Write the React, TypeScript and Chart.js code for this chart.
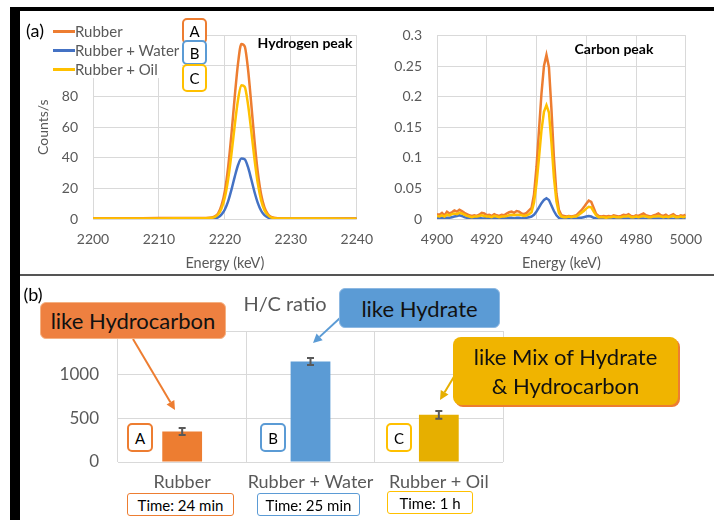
import React, { useEffect, useRef } from "react";
import { Chart, registerables } from "chart.js";

Chart.register(...registerables);

const FONT = "Lato, 'Noto Sans', sans-serif";
const ORANGE = "#ED7D31";
const BLUE = "#4472C4";
const GOLD = "#FFC000";
const BAR_BLUE = "#5B9BD5";
const BAR_GOLD = "#E6AF00";
const AXIS_GRAY = "#595959";
const GRID = "#D9D9D9";

// Sample names (shared by the spectra and the ratio bars)
const seriesNames = ["Rubber", "Rubber + Water", "Rubber + Oil"];
const seriesLetters = ["A", "B", "C"];

// Hydrogen peak spectrum (keV, counts/s)
const hEnergy = [2200, 2205, 2210, 2215, 2217, 2218, 2218.5, 2219, 2219.5, 2220, 2220.5, 2221, 2221.5, 2222, 2222.5, 2223, 2223.5, 2224, 2224.5, 2225, 2225.5, 2226, 2226.5, 2227, 2228, 2230, 2235, 2240];
const hRubber = [0.5, 0.5, 0.6, 0.6, 0.7, 1.0, 1.8, 3.9, 9.0, 18.4, 34.1, 55.6, 80.2, 101.9, 114.4, 112.9, 98.3, 75.3, 50.8, 30.3, 16.0, 7.6, 3.3, 1.4, 0.5, 0.4, 0.3, 0.3];
const hWater = [0.2, 0.2, 0.2, 0.2, 0.2, 0.2, 0.5, 1.2, 3.0, 6.2, 11.7, 19.2, 27.7, 35.3, 39.6, 39.1, 34.0, 26.0, 17.5, 10.4, 5.4, 2.5, 1.0, 0.4, 0.2, 0.1, 0.1, 0.1];
const hOil = [0.4, 0.4, 0.4, 0.5, 0.5, 0.8, 1.4, 3.1, 7.0, 14.2, 26.1, 42.6, 61.4, 78.1, 87.5, 86.4, 75.2, 57.6, 38.9, 23.1, 12.2, 5.8, 2.6, 1.1, 0.4, 0.3, 0.3, 0.2];

// Carbon peak spectrum, 1 keV bins starting at 4900 keV
const cStart = 4900;
const cRubber = [
  0.008, 0.007, 0.010, 0.006, 0.012, 0.009, 0.011, 0.014, 0.012, 0.015,
  0.013, 0.010, 0.008, 0.006, 0.005, 0.006, 0.005, 0.007, 0.010, 0.009,
  0.006, 0.007, 0.005, 0.008, 0.006, 0.005, 0.007, 0.006, 0.009, 0.011,
  0.012, 0.010, 0.013, 0.012, 0.009, 0.008, 0.010, 0.014, 0.018, 0.040,
  0.085, 0.145, 0.205, 0.250, 0.268, 0.248, 0.180, 0.100, 0.042, 0.015,
  0.006, 0.005, 0.004, 0.005, 0.004, 0.005, 0.006, 0.010, 0.014, 0.019,
  0.025, 0.030, 0.028, 0.018, 0.008, 0.005, 0.004, 0.005, 0.004, 0.005,
  0.004, 0.006, 0.005, 0.004, 0.005, 0.007, 0.006, 0.008, 0.005, 0.004,
  0.006, 0.005, 0.007, 0.009, 0.006, 0.005, 0.004, 0.006, 0.007, 0.009,
  0.006, 0.005, 0.007, 0.004, 0.006, 0.008, 0.005, 0.004, 0.006, 0.005,
  0.007,
];
const cWater = [
  0.002, 0.001, 0.002, 0.001, 0.002, 0.002, 0.003, 0.004, 0.005, 0.006,
  0.005, 0.003, 0.002, 0.001, 0.001, 0.002, 0.001, 0.002, 0.001, 0.001,
  0.002, 0.001, 0.001, 0.002, 0.001, 0.001, 0.001, 0.002, 0.001, 0.002,
  0.002, 0.001, 0.002, 0.002, 0.001, 0.002, 0.002, 0.003, 0.004, 0.007,
  0.012, 0.019, 0.026, 0.031, 0.034, 0.031, 0.022, 0.013, 0.006, 0.002,
  0.001, 0.001, 0.001, 0.001, 0.001, 0.001, 0.001, 0.002, 0.002, 0.003,
  0.004, 0.005, 0.004, 0.002, 0.001, 0.001, 0.001, 0.001, 0.000, 0.001,
  0.001, 0.001, 0.000, 0.001, 0.001, 0.001, 0.001, 0.001, 0.000, 0.001,
  0.001, 0.001, 0.001, 0.001, 0.000, 0.001, 0.001, 0.001, 0.001, 0.001,
  0.001, 0.001, 0.001, 0.001, 0.001, 0.000, 0.001, 0.001, 0.001, 0.001,
  0.001,
];
const cOil = [
  0.005, 0.004, 0.006, 0.004, 0.007, 0.006, 0.008, 0.009, 0.008, 0.010,
  0.009, 0.007, 0.005, 0.004, 0.003, 0.004, 0.004, 0.005, 0.006, 0.005,
  0.004, 0.004, 0.003, 0.005, 0.004, 0.003, 0.004, 0.004, 0.005, 0.006,
  0.007, 0.006, 0.007, 0.007, 0.006, 0.005, 0.006, 0.008, 0.011, 0.027,
  0.058, 0.100, 0.145, 0.175, 0.186, 0.174, 0.125, 0.068, 0.029, 0.010,
  0.004, 0.003, 0.003, 0.004, 0.003, 0.004, 0.004, 0.007, 0.010, 0.013,
  0.017, 0.020, 0.019, 0.012, 0.006, 0.003, 0.003, 0.003, 0.002, 0.003,
  0.003, 0.004, 0.003, 0.003, 0.003, 0.004, 0.004, 0.005, 0.003, 0.003,
  0.004, 0.003, 0.004, 0.005, 0.004, 0.003, 0.003, 0.004, 0.004, 0.005,
  0.004, 0.003, 0.004, 0.003, 0.004, 0.005, 0.003, 0.003, 0.004, 0.003,
  0.004,
];

// H/C ratio per sample, with its uncertainty
const hcRatio = [350, 1150, 540];
const hcError = [40, 40, 45];
const measureTimes = ["Time: 24 min", "Time: 25 min", "Time: 1 h"];

const lineColors = [ORANGE, BLUE, GOLD];
const boxColors = [ORANGE, BAR_BLUE, GOLD];
const barColors = [ORANGE, BAR_BLUE, BAR_GOLD];

const tickFont = { family: FONT, size: 14 };

function spectrumDataset(label: string, color: string, pts: { x: number; y: number }[], smooth: boolean) {
  return {
    label,
    data: pts,
    borderColor: color,
    backgroundColor: color,
    borderWidth: 2.5,
    pointRadius: 0,
    fill: false,
    ...(smooth ? { cubicInterpolationMode: "monotone" } : { tension: 0 }),
  };
}

function hydrogenConfig(): any {
  const pts = (ys: number[]) => hEnergy.map((x, i) => ({ x, y: ys[i] }));
  return {
    type: "line",
    data: {
      datasets: [
        spectrumDataset(seriesNames[2], GOLD, pts(hOil), true),
        spectrumDataset(seriesNames[0], ORANGE, pts(hRubber), true),
        spectrumDataset(seriesNames[1], BLUE, pts(hWater), true),
      ],
    },
    options: {
      responsive: false,
      animation: false,
      devicePixelRatio: 1,
      layout: { padding: { top: 18, right: 21, left: 0, bottom: 0 } },
      plugins: { legend: { display: false }, tooltip: { enabled: false } },
      scales: {
        x: {
          type: "linear",
          min: 2200,
          max: 2240,
          ticks: { stepSize: 10, color: AXIS_GRAY, font: tickFont, padding: 12, maxRotation: 0, callback: (v: number) => String(v) },
          grid: { color: GRID, drawTicks: false },
          border: { display: false },
          title: { display: true, text: "Energy (keV)", color: AXIS_GRAY, font: { family: FONT, size: 14.5 }, padding: 0 },
          afterFit: (s: any) => { s.height = 53; },
        },
        y: {
          min: 0,
          max: 120,
          ticks: { stepSize: 20, color: AXIS_GRAY, font: tickFont, padding: 15, callback: (v: number) => (v <= 80 ? String(v) : "") },
          grid: { color: GRID, drawTicks: false },
          border: { display: false },
          title: { display: true, text: "Counts/s", color: AXIS_GRAY, font: { family: FONT, size: 14 }, padding: { top: 15, bottom: 0 } },
          afterFit: (s: any) => { s.width = 73; },
        },
      },
    },
  };
}

function carbonConfig(): any {
  const pts = (ys: number[]) => ys.map((y, i) => ({ x: cStart + i, y }));
  return {
    type: "line",
    data: {
      datasets: [
        spectrumDataset(seriesNames[2], GOLD, pts(cOil), false),
        spectrumDataset(seriesNames[0], ORANGE, pts(cRubber), false),
        spectrumDataset(seriesNames[1], BLUE, pts(cWater), false),
      ],
    },
    options: {
      responsive: false,
      animation: false,
      devicePixelRatio: 1,
      layout: { padding: { top: 18, right: 17, left: 0, bottom: 0 } },
      plugins: { legend: { display: false }, tooltip: { enabled: false } },
      scales: {
        x: {
          type: "linear",
          min: 4900,
          max: 5000,
          ticks: { stepSize: 20, color: AXIS_GRAY, font: tickFont, padding: 12, maxRotation: 0, callback: (v: number) => String(v) },
          grid: { color: GRID, drawTicks: false },
          border: { display: false },
          title: { display: true, text: "Energy (keV)", color: AXIS_GRAY, font: { family: FONT, size: 14.5 }, padding: 0 },
          afterFit: (s: any) => { s.height = 53; },
        },
        y: {
          min: 0,
          max: 0.3,
          ticks: { stepSize: 0.05, color: AXIS_GRAY, font: tickFont, padding: 15, callback: (v: number) => String(+Number(v).toFixed(2)) },
          grid: { color: GRID, drawTicks: false },
          border: { display: false },
          afterFit: (s: any) => { s.width = 67; },
        },
      },
    },
  };
}

const errorBarPlugin = {
  id: "hcErrorBars",
  afterDatasetsDraw(chart: any) {
    const { ctx } = chart;
    const y = chart.scales.y;
    const meta = chart.getDatasetMeta(0);
    ctx.save();
    ctx.strokeStyle = "#595959";
    ctx.lineWidth = 2;
    meta.data.forEach((bar: any, i: number) => {
      const top = y.getPixelForValue(hcRatio[i] + hcError[i]);
      const bot = y.getPixelForValue(hcRatio[i] - hcError[i]);
      ctx.beginPath();
      ctx.moveTo(bar.x, top);
      ctx.lineTo(bar.x, bot);
      ctx.moveTo(bar.x - 3.5, top);
      ctx.lineTo(bar.x + 3.5, top);
      ctx.moveTo(bar.x - 3.5, bot);
      ctx.lineTo(bar.x + 3.5, bot);
      ctx.stroke();
    });
    ctx.restore();
  },
};

function ratioConfig(): any {
  return {
    type: "bar",
    data: {
      labels: seriesNames,
      datasets: [
        {
          label: "H/C ratio",
          data: hcRatio,
          backgroundColor: barColors,
          barPercentage: 0.31,
          categoryPercentage: 1,
        },
      ],
    },
    plugins: [errorBarPlugin],
    options: {
      responsive: false,
      animation: false,
      devicePixelRatio: 1,
      layout: { padding: { top: 51, right: 17, left: 0, bottom: 0 } },
      plugins: { legend: { display: false }, tooltip: { enabled: false } },
      scales: {
        x: {
          ticks: { color: AXIS_GRAY, font: { family: FONT, size: 18 }, padding: 9, maxRotation: 0, autoSkip: false },
          grid: { color: GRID, drawTicks: false, offset: true },
          border: { display: false },
          afterFit: (s: any) => { s.height = 58; },
        },
        y: {
          min: 0,
          max: 1500,
          ticks: { stepSize: 500, color: AXIS_GRAY, font: { family: FONT, size: 17 }, padding: 19, callback: (v: number) => (v < 1500 ? String(v) : "") },
          grid: { color: GRID, drawTicks: false },
          border: { display: false },
          afterFit: (s: any) => { s.width = 98; },
        },
      },
    },
  };
}

function ChartCanvas({ left, top, width, height, build }: { left: number; top: number; width: number; height: number; build: () => any }) {
  const ref = useRef<HTMLCanvasElement | null>(null);
  useEffect(() => {
    if (!ref.current) return;
    const chart = new Chart(ref.current, build());
    return () => chart.destroy();
  }, []);
  return (
    <canvas
      ref={ref}
      width={width}
      height={height}
      style={{ position: "absolute", left, top, width, height }}
    />
  );
}

type BoxProps = {
  left: number;
  top: number;
  width: number;
  height: number;
  children?: React.ReactNode;
  style?: React.CSSProperties;
};

function Box({ left, top, width, height, children, style }: BoxProps) {
  return (
    <div
      style={{
        position: "absolute",
        left,
        top,
        width,
        height,
        boxSizing: "border-box",
        display: "flex",
        alignItems: "center",
        justifyContent: "center",
        textAlign: "center",
        fontFamily: FONT,
        whiteSpace: "nowrap",
        ...style,
      }}
    >
      {children}
    </div>
  );
}

function Arrow({ x1, y1, x2, y2, color }: { x1: number; y1: number; x2: number; y2: number; color: string }) {
  const ang = Math.atan2(y2 - y1, x2 - x1);
  const len = 9;
  const half = 4.5;
  const bx = x2 - len * Math.cos(ang);
  const by = y2 - len * Math.sin(ang);
  const px = -Math.sin(ang) * half;
  const py = Math.cos(ang) * half;
  return (
    <g>
      <line x1={x1} y1={y1} x2={bx} y2={by} stroke={color} strokeWidth={2} />
      <polygon points={`${x2},${y2} ${bx + px},${by + py} ${bx - px},${by - py}`} fill={color} />
    </g>
  );
}

export default function App() {
  const legendY = [31, 50, 69];
  const letterBoxTop = [
    { top: 18, height: 26 },
    { top: 40, height: 25 },
    { top: 64, height: 28 },
  ];
  const ratioBoxLeft = [127, 260, 386];
  const timeBoxes = [
    { left: 127, top: 493, width: 107 },
    { left: 257, top: 493, width: 103 },
    { left: 387, top: 491, width: 86 },
  ];

  return (
    <div
      style={{
        position: "absolute",
        left: 0,
        top: 0,
        width: 714,
        height: 520,
        overflow: "hidden",
        background: "#fff",
        fontFamily: FONT,
      }}
    >
      {/* panel frame */}
      <div style={{ position: "absolute", left: 10, top: 7, width: 704, height: 4, background: "#000" }} />
      <div style={{ position: "absolute", left: 10, top: 7, width: 10, height: 513, background: "#000" }} />
      <div style={{ position: "absolute", left: 20, top: 274, width: 694, height: 2, background: "#555" }} />

      {/* (a) spectra */}
      <ChartCanvas left={20} top={12} width={365} height={260} build={hydrogenConfig} />
      <ChartCanvas left={370} top={12} width={344} height={260} build={carbonConfig} />

      <Box left={20} top={12} width={162} height={66} style={{ background: "#fff" }} />
      <Box left={24} top={19} width={22} height={22} style={{ fontSize: 18, color: "#000" }}>(a)</Box>
      {seriesNames.map((name, i) => (
        <React.Fragment key={name}>
          <div style={{ position: "absolute", left: 53, top: legendY[i] - 1.5, width: 22, height: 3, background: lineColors[i] }} />
          <Box left={75} top={legendY[i] - 9} width={110} height={18} style={{ justifyContent: "flex-start", fontSize: 15, color: AXIS_GRAY }}>
            {name}
          </Box>
        </React.Fragment>
      ))}
      {seriesLetters.map((letter, i) => (
        <Box
          key={letter}
          left={182}
          top={letterBoxTop[i].top}
          width={25}
          height={letterBoxTop[i].height}
          style={{ border: `2px solid ${boxColors[i]}`, borderRadius: 5, background: "#fff", fontSize: 15, color: "#000" }}
        >
          {letter}
        </Box>
      ))}
      <Box left={250} top={33} width={110} height={18} style={{ fontSize: 14, fontWeight: 700, color: "#000" }}>Hydrogen peak</Box>
      <Box left={565} top={39} width={98} height={18} style={{ fontSize: 14, fontWeight: 700, color: "#000" }}>Carbon peak</Box>

      {/* (b) H/C ratio */}
      <ChartCanvas left={20} top={280} width={500} height={240} build={ratioConfig} />

      <Box left={21} top={283} width={24} height={22} style={{ fontSize: 18, color: "#000" }}>(b)</Box>
      <Box left={240} top={291} width={90} height={24} style={{ fontSize: 20, color: AXIS_GRAY }}>H/C ratio</Box>

      {seriesLetters.map((letter, i) => (
        <Box
          key={"r" + letter}
          left={ratioBoxLeft[i]}
          top={423}
          width={26}
          height={29}
          style={{ border: `2px solid ${boxColors[i]}`, borderRadius: 5, background: "#fff", fontSize: 15, color: "#000" }}
        >
          {letter}
        </Box>
      ))}
      {measureTimes.map((t, i) => (
        <Box
          key={t}
          left={timeBoxes[i].left}
          top={timeBoxes[i].top}
          width={timeBoxes[i].width}
          height={23}
          style={{ border: `1.5px solid ${boxColors[i]}`, borderRadius: 3, background: "#fff", fontSize: 15, color: "#000" }}
        >
          {t}
        </Box>
      ))}

      <svg width={714} height={520} style={{ position: "absolute", left: 0, top: 0, pointerEvents: "none" }}>
        <Arrow x1={133} y1={339} x2={175} y2={410} color={ORANGE} />
        <Arrow x1={340} y1={318} x2={313} y2={343} color={BAR_BLUE} />
        <Arrow x1={455} y1={375} x2={440} y2={400} color={BAR_GOLD} />
      </svg>

      <Box left={40} top={302} width={186} height={37} style={{ background: "#EE8040", border: "1px solid #F4B183", borderRadius: 6, fontSize: 22, color: "#111" }}>
        like Hydrocarbon
      </Box>
      <Box left={339} top={288} width={161} height={40} style={{ background: BAR_BLUE, border: "1px solid #8DB8E2", borderRadius: 6, fontSize: 22, color: "#111" }}>
        like Hydrate
      </Box>
      <Box
        left={453}
        top={337}
        width={225}
        height={68}
        style={{ background: "#F0B400", borderRadius: 8, boxShadow: "2px 2px 0 #ED7D31", fontSize: 22, color: "#111", lineHeight: "29px", flexDirection: "column" }}
      >
        <div>like Mix of Hydrate</div>
        <div>&amp; Hydrocarbon</div>
      </Box>
    </div>
  );
}
